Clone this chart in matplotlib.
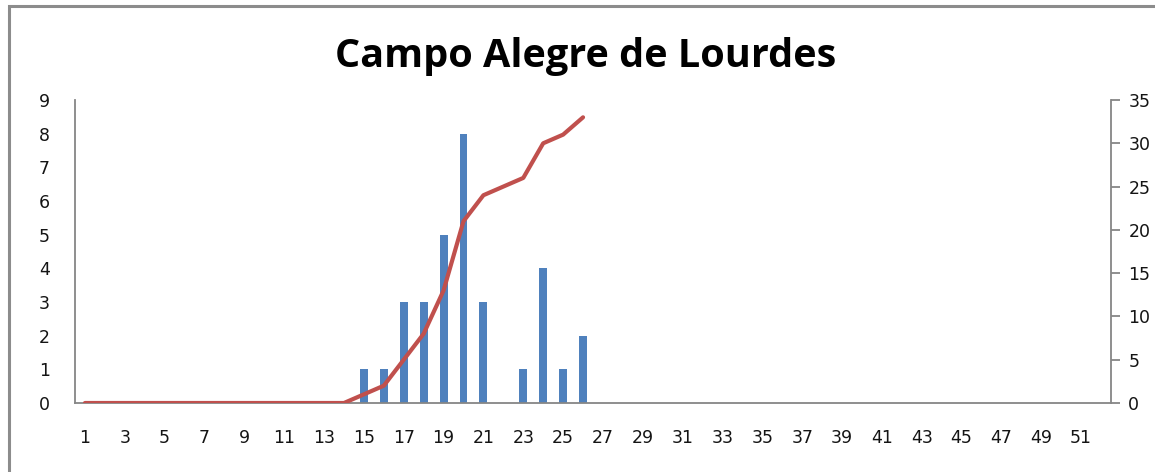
import matplotlib
matplotlib.use("Agg")
import matplotlib.pyplot as plt
from matplotlib.patches import Rectangle

weeks = list(range(1, 53))
cases = [0]*14 + [1, 1, 3, 3, 5, 8, 3, 0, 1, 4, 1, 2] + [0]*26
cumulative = [0]*14 + [1, 2, 5, 8, 13, 21, 24, 25, 26, 30, 31, 33]
title = "Campo Alegre de Lourdes"
left_ticks = list(range(0, 10))
right_ticks = list(range(0, 36, 5))
xtick_labels = [str(w) for w in range(1, 52, 2)]

plt.rcParams["font.family"] = ["DejaVu Sans"]

W, H = 1155, 472
fig = plt.figure(figsize=(W/100, H/100), dpi=100)
fig.patches.append(Rectangle((9/W, -0.1), 1.2, 1 - 6/H + 0.1, transform=fig.transFigure,
                             fill=False, edgecolor="#8c8c8c", linewidth=2.2))

ax = fig.add_axes([75/W, 1 - 403/H, (1111-75)/W, (403-100)/H])
gray = "#868686"
txt = "#141414"

ax.bar(weeks, cases, width=0.4, color="#4F81BD", zorder=2)
ax.set_xlim(0.5, 52.5)
ax.set_ylim(0, 9)
ax.set_yticks(left_ticks)
ax.set_xticks(list(range(1, 52, 2)))
ax.set_xticklabels(xtick_labels)
for s in ["top", "right"]:
    ax.spines[s].set_visible(False)
ax.spines["left"].set_color(gray)
ax.spines["bottom"].set_color(gray)
ax.spines["left"].set_linewidth(1.3)
ax.spines["bottom"].set_linewidth(1.3)
ax.tick_params(axis="y", length=0, pad=18, labelsize=12.5, labelcolor=txt)
ax.tick_params(axis="x", length=0, pad=19, labelsize=12.5, labelcolor=txt)

ax2 = ax.twinx()
ax2.plot(weeks[:len(cumulative)], cumulative, color="#C0504D", linewidth=3.0,
         solid_capstyle="round", zorder=3)
ax2.set_ylim(0, 35)
ax2.set_yticks(right_ticks)
for s in ["top", "left", "bottom"]:
    ax2.spines[s].set_visible(False)
ax2.spines["right"].set_color(gray)
ax2.spines["right"].set_linewidth(1.3)
ax2.tick_params(axis="y", length=6.5, width=1.3, color=gray, direction="out",
                pad=6, labelsize=12.5, labelcolor=txt)

fig.text(0.507, 1 - 56/H, title, ha="center", va="center", fontsize=28.5,
         fontweight="bold", family="Open Sans", color="#000000")

fig.savefig("out.png", dpi=100)
